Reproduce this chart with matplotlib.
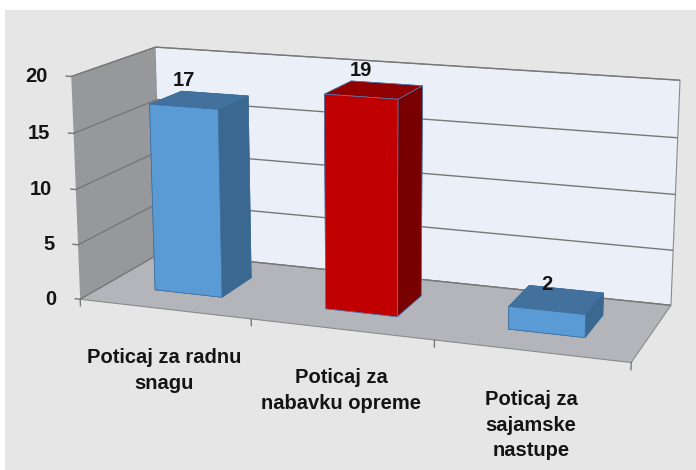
import matplotlib
matplotlib.use("Agg")
import matplotlib.pyplot as plt
import matplotlib.transforms as mtransforms
from matplotlib.patches import Rectangle
import numpy as np


categories = ["Poticaj za radnu\nsnagu", "Poticaj za\nnabavku opreme", "Poticaj za\nsajamske\nnastupe"]
values = [17, 19, 2]
bar_styles = ["blue", "red", "blue"]
z_ticks = [0, 5, 10, 15, 20]

PALETTE = {
    "blue": {"front": "#5B9BD5", "top": "#41719C", "side": "#3B6890", "edge": "#3F6F9C"},
    "red": {"front": "#C00000", "top": "#900000", "side": "#780000", "edge": "#4F81BD"},
}

FONT = ["Liberation Sans", "DejaVu Sans"]
FONT_SIZE = 14.5
TEXT_COLOR = "#141414"
LINE_COLOR = "#777777"

plt.rcParams["grid.color"] = LINE_COLOR
plt.rcParams["grid.linewidth"] = 1.0


def offset(ax, dx_pt, dy_pt):
    return ax.transData + mtransforms.ScaledTranslation(dx_pt / 72, dy_pt / 72, ax.figure.dpi_scale_trans)


def main():
    fig = plt.figure(figsize=(6.96, 4.70), dpi=100, facecolor="white")
    fig.patches.append(Rectangle((5 / 696, 0), 1, 1 - 10 / 470, transform=fig.transFigure,
                                 facecolor="#E6E6E6", edgecolor="none", zorder=-10))

    # 3D axes are forced square, so make the square larger than the figure
    side = 800
    cx, cy = 374, 278
    ax = fig.add_axes([(cx - 0.5135 * side) / 696, (cy - 0.5135 * side) / 470, side / 696, side / 470],
                      projection="3d")
    ax.patch.set_alpha(0)
    ax.view_init(elev=14, azim=-70)
    ax.set_proj_type("persp", focal_length=0.43)
    ax.set_box_aspect((4.45, 1.45, 1.8), zoom=0.78)

    n = len(values)
    ax.set_xlim(0, n)
    ax.set_ylim(0, 1)
    ax.set_zlim(0, 20)

    ax.set_xticks([])
    ax.set_yticks([])
    ax.set_zticks(z_ticks)
    ax.set_zticklabels([])
    ax.zaxis._axinfo["tick"]["inward_factor"] = 0
    ax.zaxis._axinfo["tick"]["outward_factor"] = 0

    ax.xaxis.set_pane_color("#96989C")
    ax.yaxis.set_pane_color("#EBF0F8")
    ax.zaxis.set_pane_color("#B3B5BA")
    for axis in (ax.xaxis, ax.yaxis, ax.zaxis):
        axis.pane.set_edgecolor("#8a8a8a")
        axis.pane.set_linewidth(0.8)
        axis.line.set_color((0, 0, 0, 0))
        axis.label.set_visible(False)
        axis.offsetText.set_visible(False)

    # bars, one colour per face: bottom, top, front, back, left, right
    xs = np.arange(n) + 0.3
    face_colors = []
    edge_colors = []
    for style in bar_styles:
        p = PALETTE[style]
        face_colors += [p["side"], p["top"], p["front"], p["side"], p["side"], p["side"]]
        edge_colors += [p["edge"]] * 6
    ax.bar3d(xs, np.full(n, 0.3), np.zeros(n), 0.4, 0.4, values,
             color=face_colors, edgecolor=edge_colors, linewidth=0.5, shade=False)

    for i, v in enumerate(values):
        ax.text(i + 0.5, 0.3, v, str(v), ha="center", va="bottom", fontsize=FONT_SIZE,
                fontweight="bold", family=FONT, color=TEXT_COLOR, transform=offset(ax, 0, 12))
        ax.text(i + 0.5, 0, 0, categories[i], ha="center", va="top", fontsize=FONT_SIZE,
                fontweight="bold", family=FONT, color=TEXT_COLOR, linespacing=1.45,
                transform=offset(ax, 0, -28))

    # tick marks along the front edges
    for z in z_ticks:
        ax.plot([0, -0.03], [0, 0], [z, z], color=LINE_COLOR, lw=1)
        ax.text(0, 0, z, str(z), ha="right", va="center", fontsize=FONT_SIZE,
                family=FONT, fontweight="bold", color=TEXT_COLOR, transform=offset(ax, -17, 0))
    for x in range(n + 1):
        ax.plot([x, x], [0, 0], [0, -0.6], color=LINE_COLOR, lw=1)

    fig.savefig("out.png", dpi=100, facecolor=fig.get_facecolor())
    plt.close(fig)


if __name__ == "__main__":
    main()
